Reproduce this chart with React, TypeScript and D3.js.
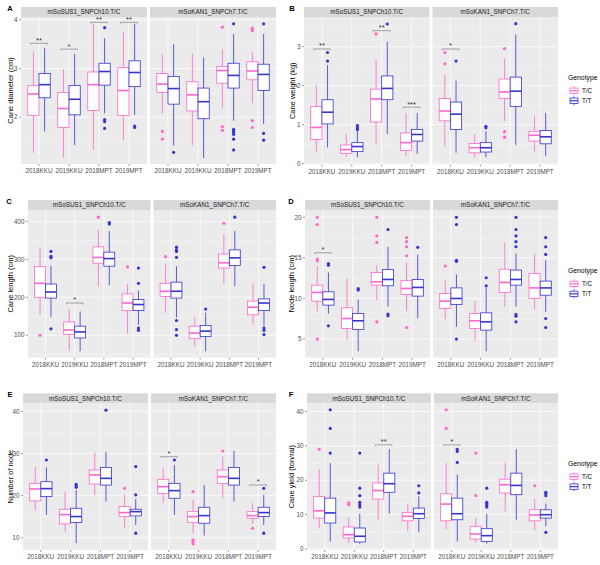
import React from "react";
import * as d3 from "d3";

const categories = ["2018KKU", "2019KKU", "2018MPT", "2019MPT"];
const facetNames = ["mSoSUS1_SNPCh10.T/C", "mSoKAN1_SNPCh7.T/C"];
const genotypes = ["T/C", "T/T"];

// box stats per category: [lowWhisker, Q1, median, Q3, highWhisker]
// ---- A: Cane diameter
const diameterSusTC = [[1.27, 2.04, 2.48, 2.65, 3.35], [1.17, 1.79, 2.18, 2.51, 2.99], [1.33, 2.14, 2.67, 2.93, 3.92], [1.53, 2.04, 2.55, 3.02, 3.75]];
const diameterSusTT = [[1.71, 2.4, 2.67, 2.9, 3.42], [1.43, 2.05, 2.37, 2.65, 3.3], [2.08, 2.66, 2.94, 3.11, 3.62], [2.05, 2.63, 2.92, 3.16, 3.92]];
const diameterKanTC = [[2.08, 2.51, 2.68, 2.9, 3.29], [1.43, 2.13, 2.46, 2.73, 3.3], [2.18, 2.7, 2.96, 3.04, 3.4], [2.29, 2.77, 2.95, 3.14, 3.34]];
const diameterKanTT = [[1.42, 2.27, 2.59, 2.84, 3.5], [1.16, 1.97, 2.32, 2.6, 3.23], [1.93, 2.6, 2.86, 3.11, 3.71], [1.86, 2.55, 2.88, 3.09, 3.71]];
const diameterSusTCOut = [[], [], [], []];
const diameterSusTTOut = [[], [], [3.84, 1.95, 1.91, 1.77], [1.82, 1.79]];
const diameterKanTCOut = [[1.71, 1.55], [], [3.85, 1.81, 1.73], [3.83, 3.78, 1.93, 1.79]];
const diameterKanTTOut = [[1.28], [], [3.92, 1.75, 1.72, 1.69, 1.65, 1.55, 1.33], [3.92, 1.67, 1.53]];
const diameterSig = [
  { facet: 0, cat: "2018KKU", y: 3.52, label: "**" },
  { facet: 0, cat: "2019KKU", y: 3.4, label: "*" },
  { facet: 0, cat: "2018MPT", y: 3.95, label: "**" },
  { facet: 0, cat: "2019MPT", y: 3.95, label: "**" },
];
const diameterTicks = [2, 3, 4];
const diameterDomain = [1.04, 4.06];

// ---- B: Cane weight
const weightSusTC = [[0.3, 0.62, 0.93, 1.47, 2.02], [0.18, 0.26, 0.36, 0.48, 0.76], [0.48, 1.07, 1.66, 1.91, 2.66], [0.2, 0.34, 0.54, 0.79, 1.3]];
const weightSusTT = [[0.42, 1.02, 1.32, 1.64, 2.53], [0.17, 0.31, 0.44, 0.54, 0.85], [0.76, 1.64, 1.93, 2.25, 3.13], [0.25, 0.58, 0.75, 0.88, 1.3]];
const weightKanTC = [[0.45, 1.1, 1.35, 1.67, 2.29], [0.17, 0.28, 0.41, 0.52, 0.76], [1.09, 1.67, 1.84, 2.17, 2.7], [0.31, 0.58, 0.73, 0.83, 1.23]];
const weightKanTT = [[0.28, 0.88, 1.27, 1.58, 2.13], [0.17, 0.3, 0.41, 0.54, 0.83], [0.48, 1.47, 1.86, 2.22, 3.31], [0.2, 0.51, 0.69, 0.85, 1.3]];
const weightSusTCOut = [[], [], [3.33], []];
const weightSusTTOut = [[2.85, 2.63], [0.98, 0.92, 0.88], [3.58], []];
const weightKanTCOut = [[2.85, 2.56], [], [2.95, 0.82, 0.68], []];
const weightKanTTOut = [[2.63], [0.96, 0.92], [3.59], []];
const weightSig = [
  { facet: 0, cat: "2018KKU", y: 2.94, label: "**" },
  { facet: 0, cat: "2018MPT", y: 3.41, label: "**" },
  { facet: 0, cat: "2019MPT", y: 1.45, label: "***" },
  { facet: 1, cat: "2018KKU", y: 2.94, label: "*" },
];
const weightTicks = [0, 1, 2, 3];
const weightDomain = [-0.02, 3.76];

// ---- C: Cane length
const lengthSusTC = [[154, 200, 237, 281, 330], [60, 102, 114, 135, 169], [229, 290, 305, 333, 378], [104, 165, 185, 209, 235]];
const lengthSusTT = [[148, 198, 214, 235, 283], [58, 93, 109, 124, 163], [232, 282, 302, 319, 374], [128, 165, 181, 194, 218]];
const lengthKanTC = [[159, 202, 216, 237, 286], [71, 91, 106, 124, 147], [235, 277, 291, 314, 367], [128, 154, 174, 190, 236]];
const lengthKanTT = [[147, 198, 216, 240, 282], [58, 97, 111, 126, 160], [229, 284, 304, 325, 375], [124, 165, 185, 196, 235]];
const lengthSusTCOut = [[100], [], [411], [280]];
const lengthSusTTOut = [[321, 308, 304, 117], [], [397, 393], [277, 237, 119, 113]];
const lengthKanTCOut = [[307], [], [395], []];
const lengthKanTTOut = [[332, 325, 321, 305, 139, 115, 100], [169], [411], [279, 119, 113, 102]];
const lengthSig = [{ facet: 0, cat: "2019KKU", y: 185, label: "*" }];
const lengthTicks = [100, 200, 300, 400];
const lengthDomain = [41, 430];

// ---- D: Node length
const nodeLenSusTC = [[8.44, 9.67, 10.74, 11.64, 14.0], [4.86, 6.3, 7.53, 8.85, 12.47], [9.8, 11.64, 12.05, 13.2, 14.1], [8.44, 10.5, 11.23, 12.2, 14.4]];
const nodeLenSusTT = [[8.15, 9.18, 9.88, 10.82, 13.2], [3.5, 6.18, 7.25, 8.15, 9.88], [8.97, 11.56, 12.34, 13.58, 16.37], [7.53, 10.29, 11.36, 12.34, 15.4]];
const nodeLenKanTC = [[7.41, 8.77, 9.67, 10.62, 12.18], [4.78, 6.3, 7.25, 8.15, 9.67], [8.97, 10.74, 11.97, 13.6, 16.9], [8.64, 10.0, 11.3, 13.08, 15.47]];
const nodeLenKanTT = [[6.5, 9.26, 10.0, 11.3, 12.96], [3.5, 6.1, 7.12, 8.23, 11.3], [8.97, 11.64, 12.34, 13.5, 15.55], [8.35, 10.4, 11.3, 12.14, 14.7]];
const nodeLenSusTCOut = [[20, 19.1, 14.85, 14.64, 5.0], [], [20, 17.7, 16.9, 7.12], [17.5, 17.0, 16.37, 15.26, 6.42]];
const nodeLenSusTTOut = [[14.3, 14.1, 6.63], [11.23, 11.03], [18.5, 8.07, 7.86], [16.3]];
const nodeLenKanTCOut = [[14.0], [], [], []];
const nodeLenKanTTOut = [[20, 19.1, 14.7, 14.56, 5.0], [12.55, 11.56], [20, 18.5, 17.7, 17.0, 16.37, 8.03, 7.82, 7.12], [17.5, 16.37, 15.43, 7.53, 6.42]];
const nodeLenSig = [{ facet: 0, cat: "2018KKU", y: 15.63, label: "*" }];
const nodeLenTicks = [5, 10, 15, 20];
const nodeLenDomain = [2.7, 20.9];

// ---- E: Number of node
const nodeNumSusTC = [[16.45, 18.74, 21.58, 22.92, 26.87], [11.48, 13.3, 15.5, 16.76, 20.95], [20.16, 22.76, 24.9, 26.08, 30.18], [12.42, 15.03, 15.97, 17.4, 20.16]];
const nodeNumSusTT = [[15.42, 19.76, 21.66, 23.3, 26.7], [8.71, 13.6, 15.03, 17.0, 21.3], [18.58, 22.5, 24.1, 26.7, 30.42], [13.05, 15.19, 16.2, 16.76, 19.2]];
const nodeNumKanTC = [[18.34, 20.55, 22.13, 23.87, 26.47], [11.08, 13.6, 15.03, 16.2, 18.97], [19.37, 22.92, 24.5, 26.08, 29.23], [13.3, 14.63, 15.26, 16.2, 18.18]];
const nodeNumKanTT = [[15.42, 19.37, 21.18, 22.92, 27.26], [10.53, 13.45, 15.26, 17.24, 22.53], [18.58, 22.5, 24.1, 26.7, 30.58], [13.05, 15.03, 15.97, 17.24, 20.16]];
const nodeNumSusTCOut = [[], [], [], [21.74]];
const nodeNumSusTTOut = [[28.45], [22.68, 22.29, 21.97], [40.28], [26.9, 20.2, 11.08]];
const nodeNumKanTCOut = [[], [20.95, 9.5, 9.1, 8.56], [30.58], [12.26]];
const nodeNumKanTTOut = [[28.45], [], [], [21.74, 11.08]];
const nodeNumSig = [
  { facet: 1, cat: "2018KKU", y: 29.23, label: "*" },
  { facet: 1, cat: "2019MPT", y: 22.53, label: "*" },
];
const nodeNumTicks = [10, 20, 30, 40];
const nodeNumDomain = [7.1, 41.9];

// ---- F: Cane yield
const yieldSusTC = [[6.1, 9.0, 11.1, 15.3, 23.2], [1.74, 3.2, 4.16, 6.4, 9.2], [8.5, 14.5, 17.0, 19.2, 24.5], [5.13, 8.2, 9.5, 10.65, 13.07]];
const yieldSusTT = [[2.2, 7.55, 10.5, 14.8, 25.0], [1.55, 2.03, 3.7, 6.1, 10.26], [10.26, 16.5, 19.0, 22.07, 29.1], [4.84, 8.9, 10.26, 11.9, 15.3]];
const yieldKanTC = [[5.8, 8.2, 13.07, 16.07, 25.0], [1.94, 2.9, 4.36, 6.6, 9.0], [10.9, 16.3, 18.7, 20.3, 25.2], [5.4, 8.2, 9.87, 11.4, 14.5]];
const yieldKanTT = [[2.2, 8.5, 10.26, 14.8, 21.6], [1.55, 2.2, 3.87, 5.9, 10.26], [8.5, 15.8, 18.5, 22.07, 29.1], [6.58, 9.0, 9.97, 11.4, 13.2]];
const yieldSusTCOut = [[29.0], [13.4, 12.9], [], []];
const yieldSusTTOut = [[40.5, 35.1, 27.9], [27.9, 17.7, 15.5, 13.55, 12.9, 12.2], [], [18.4, 16.3]];
const yieldKanTCOut = [[40.5, 35.1], [27.9, 15.5], [], [18.4]];
const yieldKanTTOut = [[29.0, 28.4, 25.2], [17.7, 13.55, 13.2, 12.7, 12.2], [], [16.5, 16.1, 15.5, 4.84]];
const yieldSig = [
  { facet: 0, cat: "2018MPT", y: 30.3, label: "**" },
  { facet: 1, cat: "2018KKU", y: 30.3, label: "*" },
];
const yieldTicks = [0, 10, 20, 30, 40];
const yieldDomain = [-0.3, 42.4];

// ---------------------------------------------------------------
const COLORS = ["#FF66CC", "#3535D0"];
const FONT = "'Liberation Sans', Arial, Helvetica, sans-serif";
const GAP = 3;
const STRIP_H = 10;

type Sig = { facet: number; cat: string; y: number; label: string };
type PanelCfg = {
  letter: string;
  title: string;
  stats: number[][][][];
  outs: number[][][][];
  sig: Sig[];
  ticks: number[];
  domain: number[];
  x0: number;
  x1: number;
  y0: number;
  y1: number;
  titleX: number;
  letterX: number;
  legend: boolean;
};

const panels: PanelCfg[] = [
  { letter: "A", title: "Cane diameter (cm)", stats: [[diameterSusTC, diameterSusTT], [diameterKanTC, diameterKanTT]], outs: [[diameterSusTCOut, diameterSusTTOut], [diameterKanTCOut, diameterKanTTOut]], sig: diameterSig, ticks: diameterTicks, domain: diameterDomain, x0: 21, x1: 276, y0: 17, y1: 164, titleX: 10, letterX: 10, legend: false },
  { letter: "B", title: "Cane weight (kg)", stats: [[weightSusTC, weightSusTT], [weightKanTC, weightKanTT]], outs: [[weightSusTCOut, weightSusTTOut], [weightKanTCOut, weightKanTTOut]], sig: weightSig, ticks: weightTicks, domain: weightDomain, x0: 304, x1: 558, y0: 17, y1: 164.5, titleX: 292, letterX: 292, legend: true },
  { letter: "C", title: "Cane length (cm)", stats: [[lengthSusTC, lengthSusTT], [lengthKanTC, lengthKanTT]], outs: [[lengthSusTCOut, lengthSusTTOut], [lengthKanTCOut, lengthKanTTOut]], sig: lengthSig, ticks: lengthTicks, domain: lengthDomain, x0: 28, x1: 276, y0: 210, y1: 357.7, titleX: 10, letterX: 9, legend: false },
  { letter: "D", title: "Node length (cm)", stats: [[nodeLenSusTC, nodeLenSusTT], [nodeLenKanTC, nodeLenKanTT]], outs: [[nodeLenSusTCOut, nodeLenSusTTOut], [nodeLenKanTCOut, nodeLenKanTTOut]], sig: nodeLenSig, ticks: nodeLenTicks, domain: nodeLenDomain, x0: 305, x1: 558, y0: 210, y1: 357.7, titleX: 291, letterX: 291, legend: true },
  { letter: "E", title: "Number of node", stats: [[nodeNumSusTC, nodeNumSusTT], [nodeNumKanTC, nodeNumKanTT]], outs: [[nodeNumSusTCOut, nodeNumSusTTOut], [nodeNumKanTCOut, nodeNumKanTTOut]], sig: nodeNumSig, ticks: nodeNumTicks, domain: nodeNumDomain, x0: 23, x1: 276, y0: 403.3, y1: 550, titleX: 10, letterX: 10, legend: false },
  { letter: "F", title: "Cane yield (ton/rai)", stats: [[yieldSusTC, yieldSusTT], [yieldKanTC, yieldKanTT]], outs: [[yieldSusTCOut, yieldSusTTOut], [yieldKanTCOut, yieldKanTTOut]], sig: yieldSig, ticks: yieldTicks, domain: yieldDomain, x0: 307, x1: 558, y0: 403.3, y1: 550, titleX: 291, letterX: 291, legend: true },
];

function minorTicks(ticks: number[], domain: number[]) {
  const step = ticks[1] - ticks[0];
  const ext = [ticks[0] - step, ...ticks, ticks[ticks.length - 1] + step];
  const out: number[] = [];
  for (let i = 0; i < ext.length - 1; i++) {
    const m = (ext[i] + ext[i + 1]) / 2;
    if (m >= domain[0] && m <= domain[1]) out.push(m);
  }
  return out;
}

function Panel({ p }: { p: PanelCfg }) {
  const fw = (p.x1 - p.x0 - GAP) / 2;
  const y = d3.scaleLinear().domain(p.domain).range([p.y1, p.y0]);
  const minors = minorTicks(p.ticks, p.domain);
  const midY = (p.y0 + p.y1) / 2;
  return (
    <g>
      <text x={p.letterX} y={p.y0 - STRIP_H + 4} fontSize={7.5} fontWeight="bold" textAnchor="middle" fontFamily={FONT} fill="#000">{p.letter}</text>
      <text transform={`translate(${p.titleX + 2.5},${midY}) rotate(-90)`} fontSize={7.5} textAnchor="middle" fontFamily={FONT} fill="#000">{p.title}</text>
      {p.ticks.map((t) => (
        <g key={"yt" + t}>
          <text x={p.x0 - 3.5} y={y(t) + 2.2} fontSize={6.3} textAnchor="end" fontFamily={FONT} fill="#4d4d4d">{t}</text>
          <line x1={p.x0 - 2} x2={p.x0} y1={y(t)} y2={y(t)} stroke="#333" strokeWidth={0.5} />
        </g>
      ))}
      {facetNames.map((fname, fi) => {
        const fx0 = p.x0 + fi * (fw + GAP);
        const x = d3.scalePoint<string>().domain(categories).range([fx0, fx0 + fw]).padding(0.6);
        const step = x.step();
        const bw = step * 0.375;
        return (
          <g key={fname}>
            <rect x={fx0} y={p.y0 - STRIP_H} width={fw} height={STRIP_H} fill="#d9d9d9" />
            <text x={fx0 + fw / 2} y={p.y0 - STRIP_H / 2 + 2.2} fontSize={6.3} textAnchor="middle" fontFamily={FONT} fill="#1a1a1a">{fname}</text>
            <rect x={fx0} y={p.y0} width={fw} height={p.y1 - p.y0} fill="#ebebeb" />
            {minors.map((m) => (
              <line key={"mn" + m} x1={fx0} x2={fx0 + fw} y1={y(m)} y2={y(m)} stroke="#fff" strokeWidth={0.35} />
            ))}
            {p.ticks.map((t) => (
              <line key={"mj" + t} x1={fx0} x2={fx0 + fw} y1={y(t)} y2={y(t)} stroke="#fff" strokeWidth={0.75} />
            ))}
            {categories.map((c) => (
              <line key={"vx" + c} x1={x(c)} x2={x(c)} y1={p.y0} y2={p.y1} stroke="#fff" strokeWidth={0.75} />
            ))}
            {categories.map((c, ci) => (
              <g key={"bx" + c}>
                {genotypes.map((g, gi) => {
                  const s = p.stats[fi][gi][ci];
                  const outs = p.outs[fi][gi][ci];
                  const cx = (x(c) as number) + (gi === 0 ? -1 : 1) * step * 0.1875;
                  const col = COLORS[gi];
                  return (
                    <g key={g}>
                      <line x1={cx} x2={cx} y1={y(s[0])} y2={y(s[1])} stroke={col} strokeWidth={0.8} />
                      <line x1={cx} x2={cx} y1={y(s[3])} y2={y(s[4])} stroke={col} strokeWidth={0.8} />
                      <rect x={cx - bw / 2} y={y(s[3])} width={bw} height={y(s[1]) - y(s[3])} fill="#fff" stroke={col} strokeWidth={0.8} />
                      <line x1={cx - bw / 2} x2={cx + bw / 2} y1={y(s[2])} y2={y(s[2])} stroke={col} strokeWidth={1.6} />
                      {outs.map((o, oi) => (
                        <circle key={oi} cx={cx} cy={y(o)} r={1.6} fill={col} />
                      ))}
                    </g>
                  );
                })}
                <line x1={x(c)} x2={x(c)} y1={p.y1} y2={p.y1 + 2} stroke="#333" strokeWidth={0.5} />
                <text x={x(c)} y={p.y1 + 9} fontSize={6.3} textAnchor="middle" fontFamily={FONT} fill="#4d4d4d">{c}</text>
              </g>
            ))}
            {p.sig.filter((s) => s.facet === fi).map((s, si) => {
              const cx = x(s.cat) as number;
              const half = step * 0.28;
              const yy = y(s.y);
              return (
                <g key={"sg" + si}>
                  <path d={`M${cx - half},${yy + 1.2}V${yy}H${cx + half}V${yy + 1.2}`} fill="none" stroke="#555" strokeWidth={0.5} />
                  <text x={cx} y={yy - 0.6} fontSize={7.5} textAnchor="middle" fontFamily={FONT} fill="#333">{s.label}</text>
                </g>
              );
            })}
          </g>
        );
      })}
      {p.legend && (
        <g>
          <text x={568} y={midY - 11} fontSize={6.8} fontFamily={FONT} fill="#000">Genotype</text>
          {genotypes.map((g, gi) => {
            const ky = midY + gi * 10;
            const kx = 574;
            return (
              <g key={"lg" + g}>
                <line x1={kx} x2={kx} y1={ky - 4.5} y2={ky + 4.5} stroke={COLORS[gi]} strokeWidth={0.8} />
                <rect x={kx - 4} y={ky - 2.7} width={8} height={5.4} fill="#fff" stroke={COLORS[gi]} strokeWidth={0.8} />
                <line x1={kx - 4} x2={kx + 4} y1={ky} y2={ky} stroke={COLORS[gi]} strokeWidth={1.2} />
                <text x={582} y={ky + 2.2} fontSize={6.3} fontFamily={FONT} fill="#000">{g}</text>
              </g>
            );
          })}
        </g>
      )}
    </g>
  );
}

export default function App() {
  return (
    <svg width={600} height={565} style={{ position: "absolute", left: 0, top: 0, background: "#fff", display: "block" }}>
      <rect x={0} y={0} width={600} height={565} fill="#fff" />
      {panels.map((p) => (
        <Panel key={p.letter} p={p} />
      ))}
    </svg>
  );
}
